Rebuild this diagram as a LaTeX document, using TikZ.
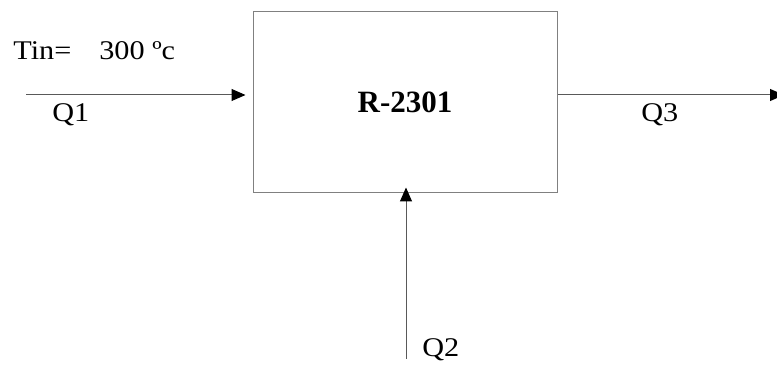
\documentclass[tikz,border=0pt]{standalone}
\usepackage{fontspec}
\setmainfont{Liberation Serif}
\usetikzlibrary{arrows.meta}
\newcommand{\widetext}[1]{\scalebox{1.12}[1]{#1}}

\begin{document}
\begin{tikzpicture}[x=0.5pt, y=-0.5pt,
  unit/.style={draw=black!50, line width=0.5pt, minimum width=152pt, minimum height=90.5pt, inner sep=0pt, font=\fontsize{15.5}{18}\selectfont\bfseries},
  lbl/.style={anchor=base west, inner sep=0pt, font=\fontsize{13.5}{16}\selectfont},
  arr/.style={draw=black!65, line width=0.5pt, -{Triangle[length=7pt, width=6pt, color=black]}}]
\clip (0,0) rectangle (777,367);
\node[unit] (reactor) at (405,102.5) {R-2301};
\coordinate (feed) at (26,95);
\coordinate (out) at (784,95);
\coordinate (utility) at (406,359);
\node[lbl] (tin) at (13,60) {\widetext{Tin=\hspace{12.5pt}300 ºc}};
\node[lbl] (q1) at (52,122) {\widetext{Q1}};
\node[lbl] (q3) at (641,122) {\widetext{Q3}};
\node[lbl] (q2) at (422,357) {\widetext{Q2}};
\draw[arr, shorten >=3.5pt] (feed) -- (feed -| reactor.west);
\draw[arr] (out -| reactor.east) -- (out);
\draw[arr, shorten >=-3pt] (utility) -- (utility |- reactor.south);
\end{tikzpicture}
\end{document}
